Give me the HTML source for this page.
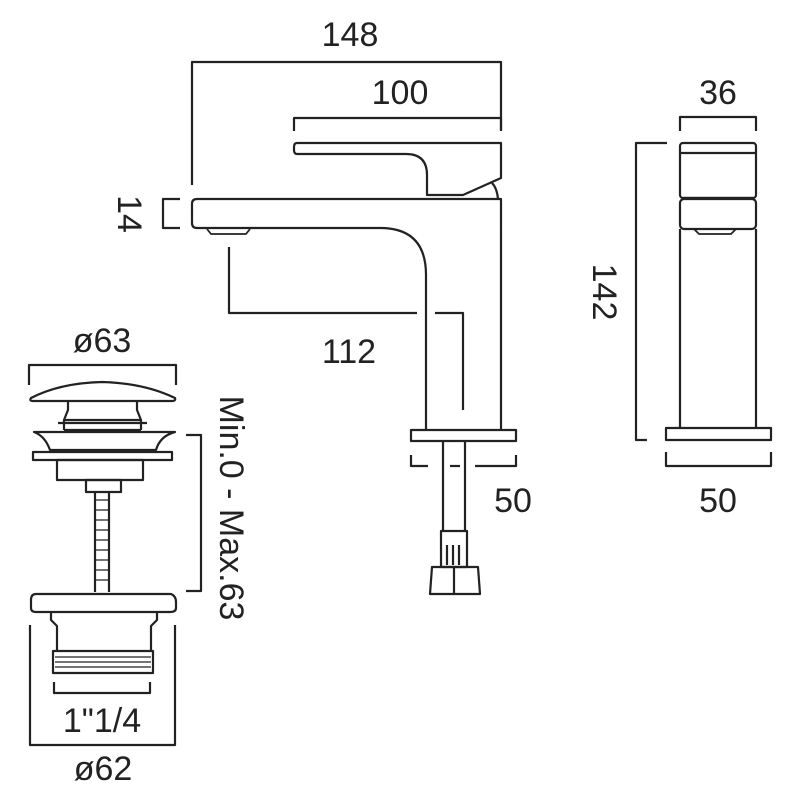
<!DOCTYPE html>
<html><head><style>
html,body{margin:0;padding:0;background:#fff;}
svg{display:block;}
text{font-family:"Liberation Sans",sans-serif;font-size:34px;fill:#222;}
</style></head><body>
<svg width="800" height="800" viewBox="0 0 800 800" xmlns="http://www.w3.org/2000/svg">
<g fill="none" stroke="#222" stroke-width="2.2" stroke-linejoin="round">
<!-- 148 dim -->
<polyline points="192,185 192,62 501,62 501,130"/>
<!-- 100 dim -->
<polyline points="294,131 294,118 501,118 501,131"/>
<!-- lever -->
<path d="M297,143 L501,143 L501,178 L463,195 L427,195 L427,175 Q427,154 406,154 L297,154 Q294,154 294,150 L294,147 Q294,143 297,143 Z"/>
<path d="M492,183 Q497,188 498,199"/>
<!-- spout / body -->
<path d="M501,430 L501,199 L197,199 Q192,199 192,204 L192,223 Q192,228 197,228 L380,228 Q426,228 426,275 L426,430"/>
<path d="M207,229 L211,234 L246,234 L250,229" stroke-width="1.8"/>
<!-- 14 dim -->
<polyline points="180,199 163,199 163,228 180,228"/>
<!-- 112 dim -->
<polyline points="229,247 229,313 417,313"/>
<polyline points="435,313 463,313 463,410"/>
<!-- base -->
<rect x="411" y="430" width="105" height="11"/>
<!-- 50 dim -->
<polyline points="411,455 411,466 428,466"/>
<line x1="450" y1="466" x2="460" y2="466"/>
<polyline points="475,466 516,466 516,455"/>
<!-- pipe -->
<line x1="443" y1="441" x2="443" y2="531"/>
<line x1="465" y1="441" x2="465" y2="531"/>
<rect x="441" y="531" width="26" height="36"/>
<line x1="447" y1="545" x2="447" y2="565"/><line x1="453" y1="545" x2="453" y2="565"/><line x1="459" y1="545" x2="459" y2="565"/>
<path d="M432,567 L478,567 L480,594 L430,594 Z"/>
<line x1="454" y1="567" x2="454" y2="594"/>
<!-- side view -->
<polyline points="680,131 680,117 756,117 756,131"/>
<rect x="680" y="143" width="76" height="55" rx="3"/>
<line x1="680" y1="153" x2="756" y2="153"/>
<rect x="680" y="199" width="76" height="30" rx="4"/>
<line x1="683" y1="198" x2="753" y2="198"/>
<line x1="680" y1="229" x2="680" y2="428"/>
<line x1="756" y1="229" x2="756" y2="428"/>
<path d="M694,229 L699,234 L731,234 L736,229" stroke-width="1.8"/>
<rect x="666" y="428" width="105" height="12"/>
<polyline points="666,452 666,466 771,466 771,452"/>
<polyline points="667,143 636,143 636,440 647,440"/>
<!-- waste: o63 dim -->
<polyline points="29,385 29,365 176,365 176,385"/>
<!-- cap -->
<path d="M31,398 Q60,383 102,382 Q144,383 175,398 Q176,401 172,401 L33,401 Q29,401 31,398 Z"/>
<path d="M68,401 L68,410 L64,420 L64,430 M137,401 L137,410 L141,420 L141,430"/>
<line x1="64" y1="420" x2="141" y2="420"/>
<line x1="58" y1="423" x2="147" y2="423"/>
<line x1="64" y1="430" x2="141" y2="430"/>
<!-- flange -->
<path d="M34,432 L175,432 Q160,436 156,450 L50,450 Q45,436 34,432 Z"/>
<rect x="33" y="452" width="139" height="8"/>
<rect x="57" y="460" width="86" height="20"/>
<rect x="86" y="480" width="35" height="12"/>
<line x1="95" y1="492" x2="95" y2="592"/>
<line x1="109" y1="492" x2="109" y2="592"/>
<path d="M95,500 L109,500 M95,510 L109,510 M95,520 L109,520 M95,530 L109,530 M95,540 L109,540 M95,550 L109,550 M95,560 L109,560 M95,570 L109,570 M95,580 L109,580" stroke-width="1.2"/>
<!-- bottom body -->
<path d="M36,594 L171,594 Q176,596 176,602 L176,608 Q176,612 170,612 L36,612 Q31,612 31,608 L31,600 Q31,594 36,594 Z"/>
<path d="M51,612 L51,620 L57,626 L57,650 M157,612 L157,620 L151,626 L151,650"/>
<rect x="53" y="651" width="100" height="22"/>
<path d="M55,657 L151,657 M55,662 L151,662 M55,667 L151,667" stroke-width="1.2"/>
<!-- 1 1/4 dim -->
<polyline points="54,682 54,693 150,693 150,682"/>
<!-- o62 dim -->
<polyline points="30,625 30,745 175,745 175,625"/>
<!-- min max bracket -->
<polyline points="186,435 201,435 201,591 186,591"/>
</g>
<text x="350" y="46" text-anchor="middle">148</text>
<text x="400" y="104" text-anchor="middle">100</text>
<text x="349" y="363" text-anchor="middle">112</text>
<text x="513" y="512" text-anchor="middle">50</text>
<text x="718" y="512" text-anchor="middle">50</text>
<text x="718" y="104" text-anchor="middle">36</text>
<text x="102" y="352" text-anchor="middle">ø63</text>
<text x="102" y="732" text-anchor="middle">1"1/4</text>
<text x="103" y="780" text-anchor="middle">ø62</text>
<text transform="translate(118,214) rotate(90)" text-anchor="middle">14</text>
<text transform="translate(593,292) rotate(90)" text-anchor="middle">142</text>
<text transform="translate(220,508) rotate(90)" text-anchor="middle">Min.0 - Max.63</text>
</svg>
</body></html>
